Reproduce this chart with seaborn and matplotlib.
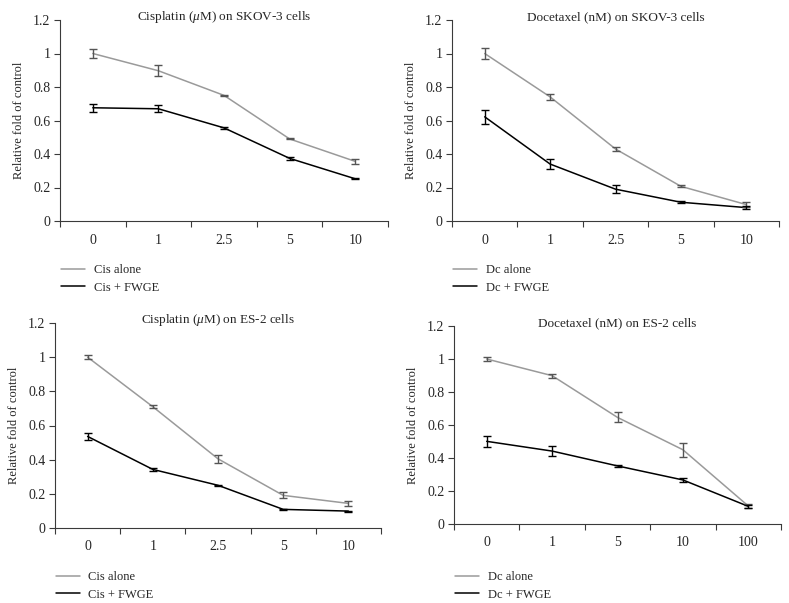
import numpy as np
import pandas as pd
import matplotlib
matplotlib.use("Agg")
import matplotlib.pyplot as plt
import seaborn as sns
from matplotlib.ticker import FixedLocator

sns.set_style("white")
plt.rcParams['font.family'] = ['Liberation Serif', 'DejaVu Serif']
plt.rcParams['mathtext.fontset'] = 'custom'
plt.rcParams['mathtext.it'] = 'Liberation Serif:italic'
plt.rcParams['mathtext.rm'] = 'Liberation Serif'

# --- data ---
cis_doses = ["0", "1", "2.5", "5", "10"]
dc_doses_skov = ["0", "1", "2.5", "5", "10"]
dc_doses_es2 = ["0", "1", "5", "10", "100"]

skov_cis_alone = [1.00, 0.897, 0.750, 0.490, 0.356]
skov_cis_alone_err = [0.025, 0.032, 0.005, 0.003, 0.016]
skov_cis_fwge = [0.676, 0.670, 0.556, 0.374, 0.252]
skov_cis_fwge_err = [0.025, 0.020, 0.008, 0.011, 0.004]

skov_dc_alone = [1.00, 0.741, 0.430, 0.207, 0.098]
skov_dc_alone_err = [0.030, 0.020, 0.014, 0.005, 0.014]
skov_dc_fwge = [0.622, 0.340, 0.190, 0.112, 0.080]
skov_dc_fwge_err = [0.040, 0.030, 0.025, 0.006, 0.008]

es2_cis_alone = [1.00, 0.710, 0.405, 0.191, 0.144]
es2_cis_alone_err = [0.010, 0.010, 0.023, 0.017, 0.014]
es2_cis_fwge = [0.536, 0.343, 0.250, 0.109, 0.099]
es2_cis_fwge_err = [0.022, 0.010, 0.003, 0.005, 0.003]

es2_dc_alone = [1.00, 0.899, 0.646, 0.450, 0.109]
es2_dc_alone_err = [0.012, 0.012, 0.030, 0.042, 0.010]
es2_dc_fwge = [0.501, 0.442, 0.352, 0.267, 0.107]
es2_dc_fwge_err = [0.035, 0.028, 0.005, 0.010, 0.010]

GRAY = "#9a9a9a"
AXC = "#3a3a3a"
W, H = 789, 603


def panel(fig, rect_px, legend_top, title, doses, alone, alone_err, fwge, fwge_err, drug):
    l, r, t, b = rect_px
    ax = fig.add_axes([l / W, (H - b) / H, (r - l) / W, (b - t) / H])
    pos = np.arange(len(doses))
    df = pd.DataFrame({
        "pos": np.concatenate([pos, pos]),
        "value": alone + fwge,
        "group": [f"{drug} alone"] * len(doses) + [f"{drug} + FWGE"] * len(doses),
    })
    sns.lineplot(data=df, x="pos", y="value", hue="group",
                 palette={f"{drug} alone": GRAY, f"{drug} + FWGE": "black"},
                 linewidth=1.1, ax=ax, legend=False)
    ax.errorbar(pos, alone, yerr=alone_err, fmt="none", ecolor="#555555",
                elinewidth=1.0, capsize=2.8, capthick=1.0)
    ax.errorbar(pos, fwge, yerr=fwge_err, fmt="none", ecolor="black",
                elinewidth=1.0, capsize=2.8, capthick=1.0)

    ax.set_xlim(-0.5, len(doses) - 0.5)
    ax.set_ylim(0, 1.2)
    ax.set_yticks(np.arange(0, 1.21, 0.2))
    ax.set_yticklabels(["0", "0.2", "0.4", "0.6", "0.8", "1", "1.2"])
    ax.xaxis.set_major_locator(FixedLocator(np.arange(-0.5, len(doses), 1.0)))
    ax.xaxis.set_minor_locator(FixedLocator(pos))
    ax.set_xticklabels([""] * (len(doses) + 1))
    ax.set_xticklabels(doses, minor=True)
    ax.tick_params(axis="x", which="major", direction="out", length=4,
                   width=0.8, color=AXC, bottom=True)
    ax.tick_params(axis="x", which="minor", length=0, pad=9, labelsize=10)
    ax.tick_params(axis="y", direction="out", length=4, width=0.8,
                   color=AXC, left=True, labelsize=10, pad=3)
    for s in ["top", "right"]:
        ax.spines[s].set_visible(False)
    for s in ["left", "bottom"]:
        ax.spines[s].set_color(AXC)
        ax.spines[s].set_linewidth(0.8)
    ax.set_xlabel("")
    ax.set_ylabel("Relative fold of control", fontsize=9, labelpad=6)
    ax.set_title(title, fontsize=9.5, pad=0)

    h1, = ax.plot([], [], color=GRAY, lw=1.1)
    h2, = ax.plot([], [], color="black", lw=1.1)
    ax.legend([h1, h2], [f"{drug} alone", f"{drug} + FWGE"],
              loc="upper left", bbox_to_anchor=((l - 4) / W, (H - legend_top) / H),
              bbox_transform=fig.transFigure,
              frameon=False, fontsize=9, handlelength=1.9,
              handletextpad=0.7, labelspacing=0.45, borderaxespad=0)
    return ax


fig = plt.figure(figsize=(7.89, 6.03), dpi=100)
panel(fig, (60, 388, 20, 221), 259, r"Cisplatin ($\mu$M) on SKOV-3 cells",
      cis_doses, skov_cis_alone, skov_cis_alone_err, skov_cis_fwge, skov_cis_fwge_err, "Cis")
panel(fig, (452, 779, 20, 221), 259, "Docetaxel (nM) on SKOV-3 cells",
      dc_doses_skov, skov_dc_alone, skov_dc_alone_err, skov_dc_fwge, skov_dc_fwge_err, "Dc")
panel(fig, (55, 381, 323, 528), 566, r"Cisplatin ($\mu$M) on ES-2 cells",
      cis_doses, es2_cis_alone, es2_cis_alone_err, es2_cis_fwge, es2_cis_fwge_err, "Cis")
panel(fig, (454, 781, 326, 524), 566, "Docetaxel (nM) on ES-2 cells",
      dc_doses_es2, es2_dc_alone, es2_dc_alone_err, es2_dc_fwge, es2_dc_fwge_err, "Dc")

fig.savefig("out.png", dpi=100, facecolor="white")
